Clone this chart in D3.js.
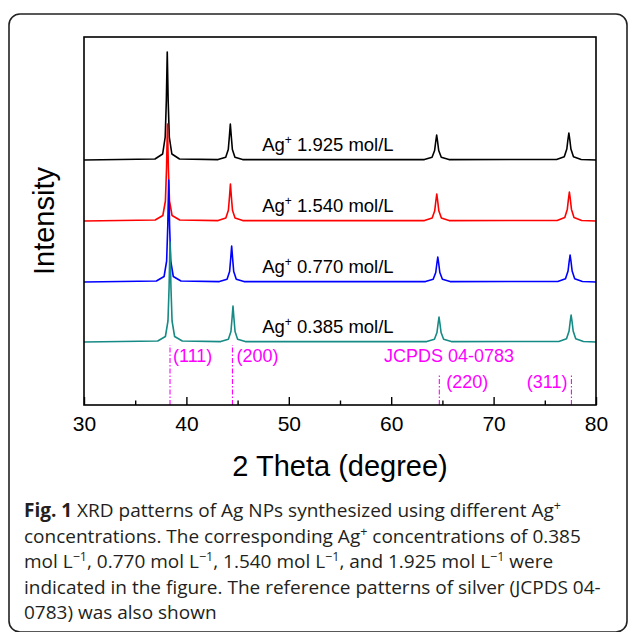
<!DOCTYPE html>
<html>
<head>
<meta charset="utf-8">
<script src="https://cdn.jsdelivr.net/npm/d3@7"></script>
<style>
  body { margin: 0; background: #fff; }
  svg { display: block; }
</style>
</head>
<body>
<svg id="chart" width="629" height="632"></svg>
<script>
// Ag+ concentrations (mol/L), top trace first
const concentrations = ["1.925", "1.540", "0.770", "0.385"];

// Vertical stacking offset of each pattern (a.u.)
const patternOffsets = [245, 184, 123, 63];

// XRD patterns: [2θ (deg), intensity above own baseline (a.u.)]
const pattern1925 = [
  [30, 0],
  [36.93, 1], [37.68, 6], [37.93, 23], [38.04, 59], [38.13, 108], [38.22, 59], [38.33, 23], [38.58, 6], [39.33, 1],
  [43.09, 0.4], [43.84, 2.8], [44.09, 10.5], [44.20, 24], [44.29, 36], [44.38, 24], [44.49, 10.5], [44.74, 2.8], [45.49, 0.4],
  [63.24, 0.4], [63.99, 2.7], [64.24, 9.5], [64.35, 18.5], [64.44, 25], [64.53, 18.5], [64.64, 9.5], [64.89, 2.7], [65.64, 0.4],
  [76.15, 0.5], [76.90, 3.2], [77.15, 11], [77.26, 20.5], [77.35, 27], [77.44, 20.5], [77.55, 11], [77.80, 3.2], [78.55, 0.5],
  [80, 0]
];
const pattern1540 = [
  [30, 0],
  [36.95, 1], [37.70, 5.5], [37.95, 20], [38.06, 53], [38.15, 97], [38.24, 53], [38.35, 20], [38.60, 5.5], [39.35, 1],
  [43.10, 0.4], [43.85, 2.9], [44.10, 10.8], [44.21, 24.4], [44.30, 37], [44.39, 24.4], [44.50, 10.8], [44.75, 2.9], [45.50, 0.4],
  [63.25, 0.4], [64.00, 2.9], [64.25, 10.2], [64.36, 20], [64.45, 27], [64.54, 20], [64.65, 10.2], [64.90, 2.9], [65.65, 0.4],
  [76.20, 0.5], [76.95, 3.4], [77.20, 11.8], [77.31, 22], [77.40, 29], [77.49, 22], [77.60, 11.8], [77.85, 3.4], [78.60, 0.5],
  [80, 0]
];
const pattern0770 = [
  [30, 0],
  [37.07, 1], [37.82, 5.5], [38.07, 21], [38.18, 56], [38.27, 102], [38.36, 56], [38.47, 21], [38.72, 5.5], [39.47, 1],
  [43.22, 0.4], [43.97, 2.8], [44.22, 10.5], [44.33, 24], [44.42, 36], [44.51, 24], [44.62, 10.5], [44.87, 2.8], [45.62, 0.4],
  [63.35, 0.4], [64.10, 2.7], [64.35, 9.5], [64.46, 18.5], [64.55, 25], [64.64, 18.5], [64.75, 9.5], [65.00, 2.7], [65.75, 0.4],
  [76.27, 0.5], [77.02, 3.2], [77.27, 11], [77.38, 20.5], [77.47, 27], [77.56, 20.5], [77.67, 11], [77.92, 3.2], [78.67, 0.5],
  [80, 0]
];
const pattern0385 = [
  [30, 0],
  [37.20, 1], [37.95, 5.5], [38.20, 21], [38.31, 55], [38.40, 100], [38.49, 55], [38.60, 21], [38.85, 5.5], [39.60, 1],
  [43.35, 0.4], [44.10, 2.8], [44.35, 10.5], [44.46, 24], [44.55, 36], [44.64, 24], [44.75, 10.5], [45.00, 2.8], [45.75, 0.4],
  [63.47, 0.4], [64.22, 2.7], [64.47, 9.5], [64.58, 18.5], [64.67, 25], [64.76, 18.5], [64.87, 9.5], [65.12, 2.7], [65.87, 0.4],
  [76.37, 0.5], [77.12, 3.2], [77.37, 11], [77.48, 20.5], [77.57, 27], [77.66, 20.5], [77.77, 11], [78.02, 3.2], [78.77, 0.5],
  [80, 0]
];
const patterns = [pattern1925, pattern1540, pattern0770, pattern0385];

// Reference reflections of silver (JCPDS 04-0783)
const refPositions = [38.4, 44.5, 64.7, 77.6];
const refLabels = ["(111)", "(200)", "(220)", "(311)"];
const refHeights = [60, 60, 30, 30];

// Axis ticks
const xMajorTicks = [30, 40, 50, 60, 70, 80];
const xMinorTicks = [35, 45, 55, 65, 75];

// ---- drawing ----
const traceColors = ["#000000", "#ff0000", "#0000ff", "#168a84"];
const refColor = "#ff00ff";
const svg = d3.select("#chart");

// rounded figure frame
svg.append("rect")
  .attr("x", 9).attr("y", 14).attr("width", 618).attr("height", 618)
  .attr("rx", 11).attr("fill", "none").attr("stroke", "#222").attr("stroke-width", 1.6);

const plotLeft = 84, plotRight = 596, plotTop = 37, plotBottom = 405;
const x = d3.scaleLinear().domain([30, 80]).range([plotLeft, plotRight]);
const y = d3.scaleLinear().domain([0, 368]).range([plotBottom, plotTop]);

// reference reflections (dash-dot)
refPositions.forEach((p, i) => {
  svg.append("line")
    .attr("x1", x(p)).attr("x2", x(p))
    .attr("y1", y(0)).attr("y2", y(refHeights[i]))
    .attr("stroke", refColor).attr("stroke-width", 1.1)
    .attr("stroke-dasharray", "5,2,1.5,2");
});

const refText = svg.append("g")
  .attr("font-family", "Arial, 'Liberation Sans', sans-serif")
  .attr("font-size", 18).attr("fill", refColor);
refText.append("text").attr("x", x(refPositions[0]) + 3).attr("y", 362).text(refLabels[0]);
refText.append("text").attr("x", x(refPositions[1]) + 4).attr("y", 362).text(refLabels[1]);
refText.append("text").attr("x", x(refPositions[2]) + 7).attr("y", 388).text(refLabels[2]);
refText.append("text").attr("x", x(refPositions[3]) - 4).attr("y", 388).attr("text-anchor", "end").text(refLabels[3]);
refText.append("text").attr("x", x(59.3)).attr("y", 362).text("JCPDS 04-0783");

// XRD traces
const line = d3.line()
  .x(d => x(d[0]))
  .y(d => d[1]);
patterns.forEach((pat, i) => {
  svg.append("path")
    .datum(pat.map(d => [d[0], y(d[1] + patternOffsets[i])]))
    .attr("d", line)
    .attr("fill", "none")
    .attr("stroke", traceColors[i])
    .attr("stroke-width", 1.6)
    .attr("stroke-linejoin", "round");
});

// concentration labels
const lab = svg.append("g")
  .attr("font-family", "Arial, 'Liberation Sans', sans-serif")
  .attr("font-size", 18.5).attr("fill", "#000");
concentrations.forEach((c, i) => {
  const t = lab.append("text")
    .attr("x", x(47.4))
    .attr("y", y(patternOffsets[i]) - 9);
  t.append("tspan").text("Ag");
  t.append("tspan").attr("dy", -7).attr("font-size", 12).text("+");
  t.append("tspan").attr("dy", 7).text(" " + c + " mol/L");
});

// plot frame
svg.append("rect")
  .attr("x", plotLeft).attr("y", plotTop)
  .attr("width", plotRight - plotLeft).attr("height", plotBottom - plotTop)
  .attr("fill", "none").attr("stroke", "#000").attr("stroke-width", 1.6);

// bottom axis, ticks pointing inward
const axMajor = svg.append("g")
  .attr("transform", `translate(0,${plotBottom})`)
  .call(d3.axisBottom(x).tickValues(xMajorTicks).tickSizeInner(-8).tickSizeOuter(0).tickPadding(11).tickFormat(d3.format("d")));
axMajor.select(".domain").remove();
axMajor.selectAll(".tick line").attr("stroke-width", 1.4);
axMajor.selectAll(".tick text")
  .attr("font-family", "Arial, 'Liberation Sans', sans-serif")
  .attr("font-size", 21).attr("fill", "#000");

const axMinor = svg.append("g")
  .attr("transform", `translate(0,${plotBottom})`)
  .call(d3.axisBottom(x).tickValues(xMinorTicks).tickSizeInner(-4.5).tickSizeOuter(0).tickFormat(""));
axMinor.select(".domain").remove();
axMinor.selectAll(".tick line").attr("stroke-width", 1.4);

// axis titles
svg.append("text")
  .attr("x", (plotLeft + plotRight) / 2).attr("y", 476)
  .attr("text-anchor", "middle")
  .attr("font-family", "Arial, 'Liberation Sans', sans-serif")
  .attr("font-size", 29).attr("fill", "#000")
  .text("2 Theta (degree)");

svg.append("text")
  .attr("transform", `translate(54,${(plotTop + plotBottom) / 2}) rotate(-90)`)
  .attr("text-anchor", "middle")
  .attr("font-family", "Arial, 'Liberation Sans', sans-serif")
  .attr("font-size", 29).attr("fill", "#000")
  .text("Intensity");

// caption
const captionLines = [
  [["Fig. 1", "b"], [" XRD patterns of Ag NPs synthesized using different Ag"], ["+", "sup"]],
  [["concentrations. The corresponding Ag"], ["+", "sup"], [" concentrations of 0.385"]],
  [["mol L"], ["\u22121", "sup"], [", 0.770 mol L"], ["\u22121", "sup"], [", 1.540 mol L"], ["\u22121", "sup"], [", and 1.925 mol L"], ["\u22121", "sup"], [" were"]],
  [["indicated in the figure. The reference patterns of silver (JCPDS 04-"]],
  [["0783) was also shown"]]
];
const cap = svg.append("g")
  .attr("font-family", "'Open Sans', 'Noto Sans', sans-serif")
  .attr("font-size", 19).attr("fill", "#231f20");
captionLines.forEach((segs, li) => {
  const t = cap.append("text").attr("x", 24).attr("y", 517 + li * 25.5);
  let raised = false;
  segs.forEach(([s, kind]) => {
    const ts = t.append("tspan").text(s);
    if (kind === "b") ts.attr("font-weight", "bold");
    if (kind === "sup" && !raised) { ts.attr("dy", -7).attr("font-size", 12.5); raised = true; }
    else if (kind === "sup") { ts.attr("font-size", 12.5); }
    else if (raised) { ts.attr("dy", 7); raised = false; }
  });
});
</script>
</body>
</html>
